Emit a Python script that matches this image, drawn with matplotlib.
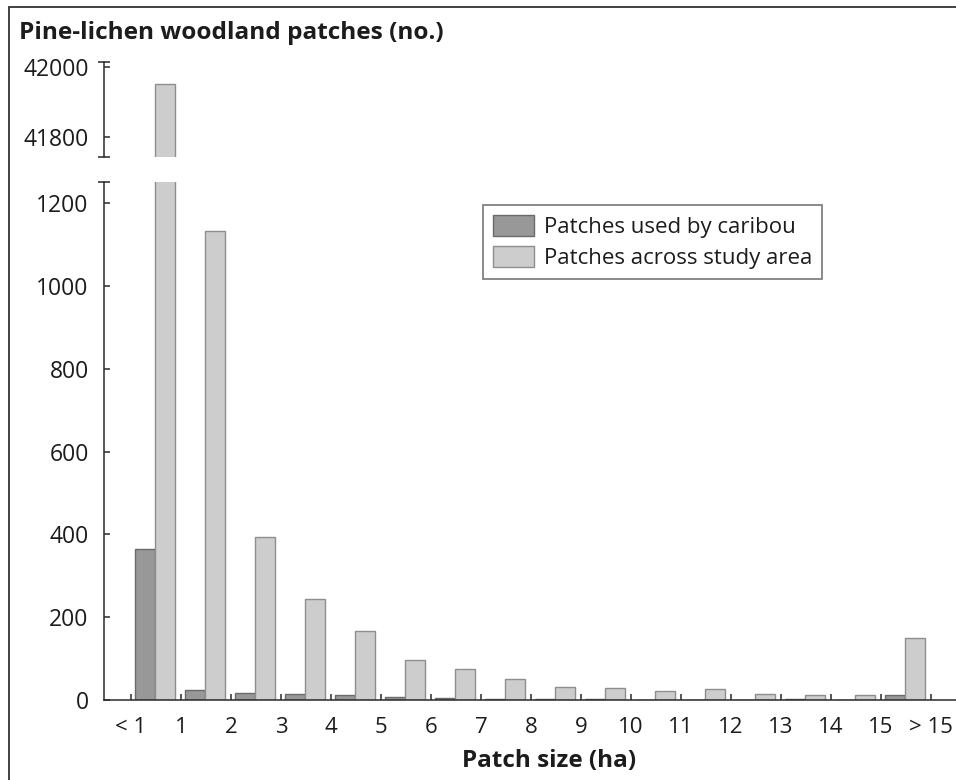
import matplotlib
matplotlib.use("Agg")
import matplotlib.pyplot as plt
from matplotlib.patches import Rectangle, Patch
import numpy as np

plt.rcParams['font.family'] = ['Open Sans', 'DejaVu Sans']

# ---- data ----
tick_labels = ["< 1", "1", "2", "3", "4", "5", "6", "7", "8", "9", "10",
               "11", "12", "13", "14", "15", "> 15"]
used_by_caribou = [365, 24, 17, 15, 12, 7, 4, 2, 2, 2, 0, 1, 0, 2, 1, 12]
across_study_area = [41950, 1132, 394, 244, 167, 97, 75, 51, 31, 30, 22, 27, 15, 12, 12, 150]
series_names = ["Patches used by caribou", "Patches across study area"]

W, H = 956, 780
fig = plt.figure(figsize=(W / 100, H / 100), dpi=100)

def fx(px):
    return px / W

def fy(py):
    return 1 - py / H

# axes rectangles (pixels)
left_px, right_px = 104, 956
low_top, low_bot = 182, 700
up_top, up_bot = 62, 157

ax = fig.add_axes([fx(left_px), fy(low_bot), fx(right_px - left_px), (low_bot - low_top) / H])
axu = fig.add_axes([fx(left_px), fy(up_bot), fx(right_px - left_px), (up_bot - up_top) / H])

dark_fill, dark_edge = '#989898', '#6a6a6a'
light_fill, light_edge = '#cdcdcd', '#8e8e8e'
axis_col = '#2a2a2a'
text_col = '#1c1c1c'

n = len(used_by_caribou)
x = np.arange(n)
bw = 0.4
for a in (ax, axu):
    a.bar(x + 0.08, used_by_caribou, width=bw, align='edge', color=dark_fill,
          edgecolor=dark_edge, linewidth=1.0, zorder=2)
    a.bar(x + 0.48, across_study_area, width=bw, align='edge', color=light_fill,
          edgecolor=light_edge, linewidth=1.0, zorder=2)
    a.set_xlim(-0.54, 16.5)
    a.patch.set_alpha(0)

ax.set_ylim(0, 1251)
axu.set_ylim(41743, 42014)

# spines
for s in ('top', 'right'):
    ax.spines[s].set_visible(False)
for s in ('top', 'right', 'bottom'):
    axu.spines[s].set_visible(False)
for a in (ax, axu):
    a.spines['left'].set_color(axis_col)
    a.spines['left'].set_linewidth(1.1)
ax.spines['bottom'].set_color(axis_col)
ax.spines['bottom'].set_linewidth(1.1)

# ticks
ax.set_yticks([0, 200, 400, 600, 800, 1000, 1200])
axu.set_yticks([41800, 42000])
ax.set_xticks(np.arange(len(tick_labels)))
ax.set_xticklabels(tick_labels)
axu.set_xticks([])
for a in (ax, axu):
    a.tick_params(axis='y', direction='in', length=4, width=1.1, color=axis_col,
                  labelsize=16.5, labelcolor=text_col, pad=11)
ax.tick_params(axis='x', direction='in', length=4, width=1.1, color=axis_col,
               labelsize=16, labelcolor=text_col, pad=12)

# caps at the broken axis ends
for a, ys in ((axu, (0, 1)), (ax, (1,))):
    for yy in ys:
        a.plot([0], [yy], marker='_', markersize=9, markeredgewidth=1.1,
               color=axis_col, transform=a.transAxes, clip_on=False)

# title and axis label
fig.text(fx(19), fy(39), "Pine-lichen woodland patches (no.)", fontsize=17.6,
         fontweight='bold', color=text_col, ha='left', va='baseline')
fig.text(fx(549), fy(767), "Patch size (ha)", fontsize=17.5, fontweight='bold',
         color=text_col, ha='center', va='baseline')

# legend
handles = [Patch(facecolor=dark_fill, edgecolor=dark_edge, linewidth=1.0),
           Patch(facecolor=light_fill, edgecolor=light_edge, linewidth=1.0)]
leg = fig.legend(handles, series_names, loc='upper left',
                 bbox_to_anchor=(fx(483), fy(205)), bbox_transform=fig.transFigure,
                 fontsize=16, frameon=True, fancybox=False, shadow=False,
                 handlelength=1.85, handleheight=1.1, handletextpad=0.45,
                 labelspacing=0.33, borderpad=0.45, borderaxespad=0)
leg.get_frame().set_edgecolor('#555555')
leg.get_frame().set_linewidth(1.2)
for t in leg.get_texts():
    t.set_color(text_col)

# figure frame (left and top border visible)
fig.patches.append(Rectangle((fx(9), -0.1), 1.2, fy(7) + 0.1, transform=fig.transFigure,
                             fill=False, edgecolor='#333333', linewidth=1.3))

fig.savefig("out.png", dpi=100)
